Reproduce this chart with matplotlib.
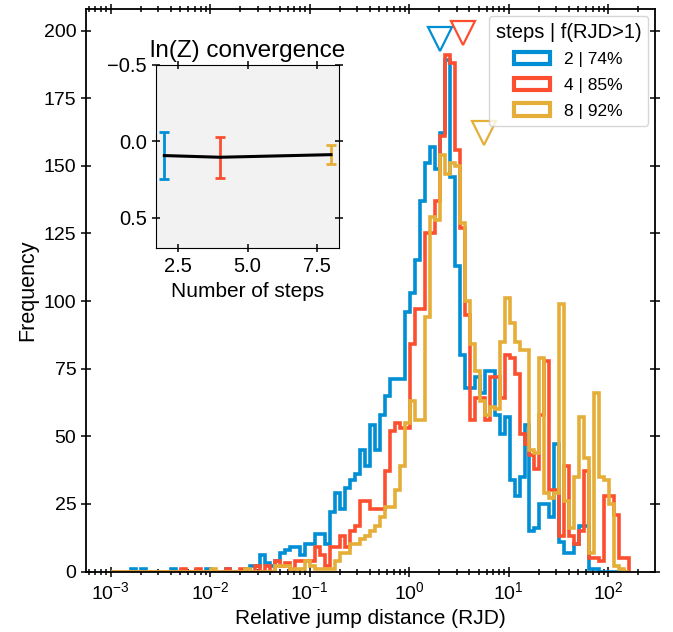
import matplotlib
matplotlib.use("Agg")
import matplotlib.pyplot as plt
import numpy as np
from matplotlib.patches import Patch

plt.rcParams["font.family"] = ["Liberation Sans", "DejaVu Sans"]

# ---------------------------------------------------------------------------
# Data
# ---------------------------------------------------------------------------
BIN_LOG_MIN = -3.0
BIN_LOG_MAX = 2.21
N_BINS = 104

STEPS = [2, 4, 8]
FRACTION_ABOVE_ONE = [74, 85, 92]          # percent with RJD > 1
MEDIAN_RJD = [2.05, 3.49, 5.67]

# counts per log bin, index 0 .. 103
COUNTS_2 = [
    0, 0, 0, 0, 1, 0, 1, 0, 0, 0, 0, 0, 1, 0, 0, 0, 0, 0, 0, 1,
    0, 0, 0, 1, 0, 0, 0, 1, 2, 2, 6, 3, 2, 4, 7, 8, 9, 9, 6, 10,
    10, 14, 14, 10, 22, 29, 23, 31, 34, 36, 45, 39, 54, 45, 58, 65, 71, 71, 71, 96,
    103, 115, 137, 151, 157, 149, 162, 189, 146, 113, 80, 68, 68, 72, 66, 74, 74, 58, 51, 57,
    34, 28, 35, 54, 15, 16, 25, 25, 20, 47, 11, 7, 7, 10, 17, 17, 1, 1, 0, 0,
    0, 0, 0, 0,
]
COUNTS_4 = [
    0, 0, 0, 0, 0, 0, 0, 0, 0, 0, 0, 0, 0, 0, 1, 0, 0, 1, 0, 0,
    0, 0, 0, 1, 0, 0, 1, 0, 0, 2, 0, 2, 0, 4, 2, 3, 1, 4, 4, 4,
    4, 9, 6, 2, 9, 9, 13, 9, 15, 17, 26, 26, 23, 23, 23, 37, 52, 55, 53, 53,
    84, 97, 97, 125, 125, 137, 161, 191, 188, 156, 127, 95, 56, 64, 64, 56, 72, 72, 64, 80,
    79, 73, 51, 47, 43, 38, 58, 78, 30, 30, 13, 39, 13, 10, 15, 37, 5, 5, 4, 28,
    28, 21, 5, 5,
]
COUNTS_8 = [
    0, 0, 0, 0, 0, 0, 0, 0, 0, 0, 0, 0, 0, 0, 0, 0, 0, 0, 0, 0,
    1, 0, 0, 0, 0, 0, 0, 1, 0, 0, 0, 0, 0, 2, 2, 2, 1, 1, 1, 4,
    2, 1, 1, 1, 1, 4, 7, 7, 10, 10, 12, 13, 15, 17, 20, 24, 24, 30, 39, 55,
    63, 56, 56, 94, 131, 130, 154, 147, 151, 150, 129, 100, 84, 74, 63, 58, 61, 60, 85, 101,
    92, 85, 82, 82, 45, 44, 79, 29, 27, 29, 99, 26, 16, 35, 57, 42, 7, 66, 35, 34,
    25, 2, 1, 0,
]

# inset: ln(Z) offset per number of steps
LNZ_MEAN = [0.093, 0.104, 0.087]
LNZ_ERR = [0.155, 0.134, 0.063]

COLORS = ["#008fd5", "#fc4f30", "#e5ae38"]

# ---------------------------------------------------------------------------
# Figure
# ---------------------------------------------------------------------------
fig = plt.figure(figsize=(6.73, 6.32), dpi=100)
ax = fig.add_axes([0.1278, 0.0957, 0.8455, 0.8901])

edges = np.logspace(BIN_LOG_MIN, BIN_LOG_MAX, N_BINS + 1)
centers = np.sqrt(edges[:-1] * edges[1:])

all_counts = [COUNTS_2, COUNTS_4, COUNTS_8]
handles = []
for counts, color, step, frac in zip(all_counts, COLORS, STEPS, FRACTION_ABOVE_ONE):
    ax.hist(centers, bins=edges, weights=counts, histtype="step",
            color=color, linewidth=2.6)
    handles.append(Patch(facecolor="none", edgecolor=color, linewidth=3,
                         label=f"{step} | {frac}%"))

for med, counts, color in zip(MEDIAN_RJD, all_counts, COLORS):
    ax.plot(med, max(counts) + 8, marker="v", markersize=17,
            markerfacecolor="none", markeredgecolor=color,
            markeredgewidth=1.6, linestyle="none", clip_on=False)

ax.set_xscale("log")
ax.set_xlim(10 ** -3.25, 10 ** 2.47)
ax.set_ylim(0, 208)
ax.set_yticks(np.arange(0, 201, 25))
ax.set_xlabel("Relative jump distance (RJD)", fontsize=15)
ax.set_ylabel("Frequency", fontsize=15.5)
ax.tick_params(which="both", direction="inout", top=True, right=True,
               labelsize=14, width=1.1)
ax.tick_params(which="major", length=7)
ax.tick_params(which="minor", length=4)
for spine in ax.spines.values():
    spine.set_linewidth(1.3)

leg = ax.legend(handles=handles, title="steps | f(RJD>1)", loc="upper right",
                fontsize=12.5, title_fontsize=14.5, handlelength=2.1,
                labelspacing=0.6, borderaxespad=0.4, framealpha=0.8)
leg.get_frame().set_edgecolor("#cccccc")

# ---------------------------------------------------------------------------
# Inset
# ---------------------------------------------------------------------------
ins = fig.add_axes([0.2318, 0.6071, 0.2724, 0.2901])
ins.set_facecolor("#f2f2f2")
ins.plot(STEPS, LNZ_MEAN, color="black", linewidth=2.2, zorder=3)
for x, y, e, color in zip(STEPS, LNZ_MEAN, LNZ_ERR, COLORS):
    ins.errorbar(x, y, yerr=e, color=color, capsize=3.5, elinewidth=2,
                 capthick=2, linestyle="none", zorder=2)
ins.set_ylim(0.7, -0.5)
ins.set_yticks([-0.5, 0.0, 0.5])
ins.set_xlim(1.7, 8.3)
ins.set_title("ln(Z) convergence", fontsize=17.5)
ins.set_xlabel("Number of steps", fontsize=15)
ins.tick_params(which="both", direction="inout", top=True, right=True,
                labelsize=14.5, length=6, width=1.1)

fig.savefig("out.png", dpi=100, facecolor="white")
